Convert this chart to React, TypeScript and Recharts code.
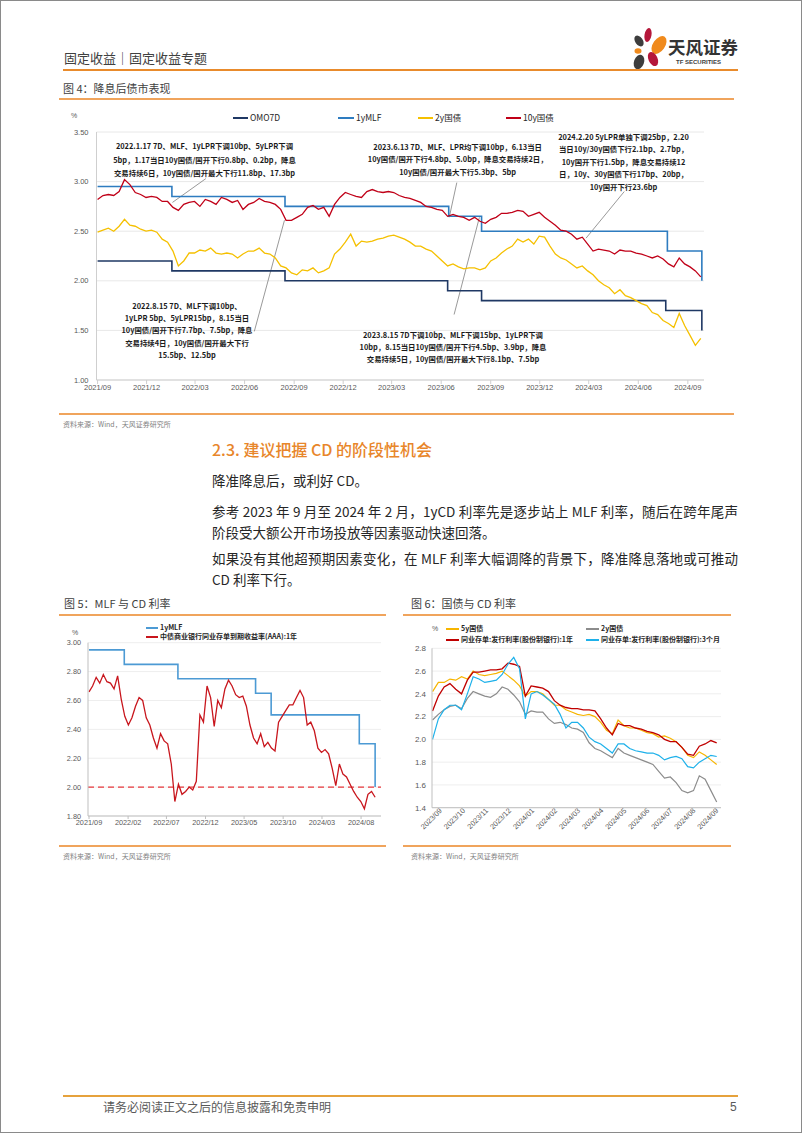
import React from 'react'
import { LineChart, Line, XAxis, YAxis, CartesianGrid, ReferenceLine } from 'recharts'

const CJK = '"Noto Sans CJK SC", "Noto Sans", sans-serif'
const NUM = '"Liberation Sans", "Noto Sans CJK SC", sans-serif'
const ORANGE = '#e98b2c'
const AXIS = '#cfcfcf'
const TICK = '#595959'

// ---------- 图4：降息后债市表现 ----------
const seriesStart = '2021-09-01'
const fig4StepDays = 10 // 2y / 10y samples every 10 days from seriesStart
const fig4Labels = ['2021/09', '2021/12', '2022/03', '2022/06', '2022/09', '2022/12', '2023/03', '2023/06', '2023/09', '2023/12', '2024/03', '2024/06', '2024/09']
const fig4YTicks = [1, 1.5, 2, 2.5, 3, 3.5]

const y10Values = [
  2.82, 2.86, 2.87, 2.86, 2.90, 3.02, 2.97, 2.89, 2.87, 2.84,
  2.85, 2.84, 2.80, 2.80, 2.74, 2.71, 2.77, 2.79, 2.80, 2.75,
  2.82, 2.80, 2.77, 2.84, 2.82, 2.79, 2.81, 2.72, 2.77, 2.79,
  2.83, 2.80, 2.79, 2.77, 2.72, 2.61, 2.61, 2.64, 2.67, 2.74,
  2.76, 2.72, 2.74, 2.65, 2.77, 2.84, 2.89, 2.87, 2.85, 2.84,
  2.90, 2.92, 2.90, 2.89, 2.90, 2.89, 2.86, 2.84, 2.83, 2.81,
  2.79, 2.75, 2.74, 2.72, 2.71, 2.65, 2.67, 2.65, 2.64, 2.61,
  2.64, 2.60, 2.58, 2.62, 2.64, 2.68, 2.68, 2.69, 2.71, 2.70,
  2.65, 2.67, 2.69, 2.64, 2.60, 2.56, 2.51, 2.50, 2.47, 2.42,
  2.44, 2.37, 2.30, 2.32, 2.31, 2.30, 2.27, 2.31, 2.30, 2.30,
  2.28, 2.27, 2.25, 2.23, 2.25, 2.22, 2.17, 2.14, 2.23, 2.17,
  2.14, 2.10, 2.04,
]
const y2Values = [
  2.49, 2.51, 2.53, 2.50, 2.55, 2.62, 2.56, 2.55, 2.52, 2.50,
  2.51, 2.49, 2.42, 2.39, 2.30, 2.15, 2.20, 2.28, 2.28, 2.31,
  2.30, 2.33, 2.28, 2.27, 2.28, 2.27, 2.23, 2.27, 2.30, 2.30,
  2.33, 2.28, 2.27, 2.23, 2.15, 2.13, 2.08, 2.06, 2.11, 2.10,
  2.13, 2.08, 2.10, 2.13, 2.27, 2.32, 2.39, 2.47, 2.35, 2.40,
  2.39, 2.40, 2.42, 2.43, 2.45, 2.46, 2.44, 2.42, 2.39, 2.35,
  2.35, 2.32, 2.30, 2.25, 2.20, 2.15, 2.17, 2.14, 2.12, 2.13,
  2.13, 2.11, 2.13, 2.20, 2.23, 2.28, 2.32, 2.35, 2.42, 2.39,
  2.42, 2.37, 2.45, 2.44, 2.35, 2.27, 2.23, 2.21, 2.17, 2.13,
  2.15, 2.10, 2.06, 2.00, 1.96, 1.93, 1.87, 1.91, 1.85, 1.83,
  1.80, 1.77, 1.75, 1.68, 1.66, 1.60, 1.57, 1.53, 1.67, 1.55,
  1.45, 1.35, 1.42,
]
const omoDates = ['2021-09-01', '2022-01-17', '2022-08-15', '2023-06-13', '2023-08-15', '2024-07-22', '2024-09-27']
const omoValues = [2.2, 2.1, 2.0, 1.9, 1.8, 1.7, 1.5]
const mlfDates = ['2021-09-01', '2022-01-17', '2022-08-15', '2023-06-15', '2023-08-15', '2024-07-25', '2024-09-27']
const mlfValues = [2.95, 2.85, 2.75, 2.65, 2.5, 2.3, 2.0]

// leader lines: [text end date, value, series date, value]
const fig4Leaders: [string, number, string, number][] = [
  ['2022-03-21', 3.03, '2022-01-18', 2.79],
  ['2023-06-30', 2.99, '2023-06-16', 2.64],
  ['2024-05-06', 2.9, '2024-02-25', 2.43],
  ['2022-06-19', 1.49, '2022-08-14', 2.61],
  ['2023-06-25', 1.66, '2023-08-11', 2.64],
]
const fig4Notes = [
  { cx: 203.5, cy: 145, lh: 13.5, lines: ['2022.1.17 7D、MLF、1yLPR下调10bp、5yLPR下调', '5bp，1.17当日10y国债/国开下行0.8bp、0.2bp，降息', '交易持续6日，10y国债/国开最大下行11.8bp、17.3bp'] },
  { cx: 456.7, cy: 146, lh: 12.9, lines: ['2023.6.13 7D、MLF、LPR均下调10bp，6.13当日', '10y国债/国开下行4.8bp、5.0bp，降息交易持续2日，', '10y国债/国开最大下行5.3bp、5bp'] },
  { cx: 622.5, cy: 136, lh: 12.5, lines: ['2024.2.20 5yLPR单独下调25bp，2.20', '当日10y/30y国债下行2.1bp、2.7bp，', '10y国开下行1.5bp，降息交易持续12', '日，10y、30y国债下行17bp、20bp，', '10y国开下行23.6bp'] },
  { cx: 186, cy: 305, lh: 12.3, lines: ['2022.8.15 7D、MLF下调10bp、', '1yLPR 5bp、5yLPR15bp，8.15当日', '10y国债/国开下行7.7bp、7.5bp，降息', '交易持续4日，10y国债/国开最大下行', '15.5bp、12.5bp'] },
  { cx: 452, cy: 334, lh: 12.2, lines: ['2023.8.15 7D下调10bp、MLF下调15bp、1yLPR下调', '10bp，8.15当日10y国债/国开下行4.5bp、3.9bp，降息', '交易持续5日，10y国债/国开最大下行8.1bp、7.5bp'] },
]

// ---------- 图5：MLF 与 CD 利率 ----------
const fig5StepDays = 14
const fig5Labels = ['2021/09', '2022/02', '2022/07', '2022/12', '2023/05', '2023/10', '2024/03', '2024/08']
const fig5YTicks = [1.8, 2.0, 2.2, 2.4, 2.6, 2.8, 3.0]
const cd1yAaaValues = [
  2.66, 2.70, 2.76, 2.72, 2.78, 2.73, 2.72, 2.68, 2.77, 2.61,
  2.49, 2.43, 2.48, 2.56, 2.62, 2.60, 2.48, 2.43, 2.34, 2.27,
  2.37, 2.32, 2.30, 2.16, 1.90, 2.02, 1.95, 1.97, 2.00, 1.98,
  2.04, 2.50, 2.45, 2.70, 2.62, 2.42, 2.60, 2.55, 2.68, 2.74,
  2.70, 2.64, 2.62, 2.63, 2.56, 2.43, 2.34, 2.30, 2.37, 2.28,
  2.31, 2.27, 2.25, 2.45, 2.49, 2.53, 2.57, 2.57, 2.62, 2.67,
  2.62, 2.43, 2.45, 2.39, 2.27, 2.24, 2.26, 2.23, 2.13, 2.01,
  2.16, 2.09, 2.07, 2.02, 1.97, 1.93, 1.90, 1.85, 1.95, 1.97,
  1.93,
]
const fig5MlfDates = ['2021-09-01', '2022-01-17', '2022-08-15', '2023-06-15', '2023-08-15', '2024-07-25', '2024-09-25']
const fig5MlfValues = [2.95, 2.85, 2.75, 2.65, 2.5, 2.3, 2.0]

// ---------- 图6：国债与 CD 利率 ----------
const fig6Labels = ['2023/09', '2023/10', '2023/11', '2023/12', '2024/01', '2024/02', '2024/03', '2024/04', '2024/05', '2024/06', '2024/07', '2024/08', '2024/09']
const fig6Start = -0.28 // in label units (0 = 2023/09)
const fig6Step = 0.2517
const fig6YTicks = [1.4, 1.6, 1.8, 2.0, 2.2, 2.4, 2.6, 2.8]
const gov5yValues = [
  2.42, 2.50, 2.50, 2.53, 2.52, 2.55, 2.53, 2.60, 2.57, 2.56,
  2.57, 2.58, 2.60, 2.56, 2.52, 2.47, 2.38, 2.42, 2.42, 2.40,
  2.35, 2.30, 2.30, 2.26, 2.24, 2.22, 2.21, 2.22, 2.20, 2.15,
  2.08, 2.05, 2.17, 2.12, 2.10, 2.10, 2.08, 2.06, 2.05, 2.02,
  2.03, 2.01, 1.98, 1.93, 1.86, 1.84, 1.89, 1.86, 1.82, 1.78,
]
const gov2yValues = [
  2.17, 2.22, 2.26, 2.29, 2.30, 2.27, 2.36, 2.42, 2.40, 2.38,
  2.37, 2.40, 2.46, 2.44, 2.39, 2.33, 2.22, 2.25, 2.24, 2.24,
  2.18, 2.14, 2.15, 2.13, 2.10, 2.09, 2.06, 1.97, 1.92, 1.90,
  1.87, 1.84, 1.92, 1.88, 1.86, 1.84, 1.82, 1.80, 1.78, 1.72,
  1.66, 1.67, 1.62, 1.55, 1.53, 1.55, 1.68, 1.65, 1.55, 1.45,
]
const cd1yValues = [
  2.25, 2.38, 2.46, 2.49, 2.44, 2.40, 2.52, 2.59, 2.59, 2.60,
  2.61, 2.61, 2.62, 2.67, 2.66, 2.64, 2.38, 2.47, 2.46, 2.45,
  2.42, 2.34, 2.30, 2.28, 2.27, 2.27, 2.26, 2.26, 2.25, 2.18,
  2.10, 2.04, 2.14, 2.12, 2.12, 2.10, 2.09, 2.07, 2.06, 2.04,
  2.00, 1.98, 1.98, 1.93, 1.87, 1.86, 1.94, 1.96, 1.99, 1.97,
]
const cd3mValues = [
  2.00, 2.18, 2.26, 2.30, 2.30, 2.26, 2.40, 2.55, 2.53, 2.50,
  2.51, 2.52, 2.57, 2.66, 2.72, 2.62, 2.18, 2.40, 2.42, 2.39,
  2.35, 2.31, 2.22, 2.10, 2.15, 2.15, 2.10, 2.02, 1.98, 1.96,
  1.92, 1.88, 1.96, 1.96, 1.92, 1.90, 1.89, 1.88, 1.88, 1.86,
  1.82, 1.84, 1.85, 1.83, 1.76, 1.75, 1.80, 1.83, 1.86, 1.85,
]

// ---------- text ----------
const sourceText = '资料来源：Wind，天风证券研究所'
const para2 = ['参考 2023 年 9 月至 2024 年 2 月，1yCD 利率先是逐步站上 MLF 利率，随后在跨年尾声', '阶段受大额公开市场投放等因素驱动快速回落。']
const para3 = ['如果没有其他超预期因素变化，在 MLF 利率大幅调降的背景下，降准降息落地或可推动', 'CD 利率下行。']

function dayOf(date: string): number {
  return Math.round((Date.parse(date) - Date.parse(seriesStart)) / 86400000)
}
const labelDay = (label: string) => dayOf(label.replace('/', '-') + '-01')

function Label({ x, cy, size, color = '#333', weight = 400, font = CJK, children }: any) {
  return (
    <div style={{ position: 'absolute', left: x, top: cy - size * 0.7, fontSize: size, lineHeight: `${size * 1.4}px`, color, fontWeight: weight, fontFamily: font, whiteSpace: 'nowrap' }}>
      {children}
    </div>
  )
}

function Rule({ x1, x2, y, h = 1, color = ORANGE }: any) {
  return <div style={{ position: 'absolute', left: x1, top: y - h / 2, width: x2 - x1, height: h, background: color }} />
}

function Key({ x, cy, w, color, label, size, bold = false, gap = 2, thick = 2 }: any) {
  return (
    <>
      <div style={{ position: 'absolute', left: x, top: cy - thick / 2, width: w, height: thick, background: color }} />
      <Label x={x + w + gap} cy={cy} size={size} color="#262626" weight={bold ? 700 : 400}>{label}</Label>
    </>
  )
}

function Logo() {
  return (
    <>
      <svg style={{ position: 'absolute', left: 626, top: 24 }} width={46} height={48}>
        <ellipse cx={21} cy={10} rx={3.5} ry={7} fill="#b5173a" transform="rotate(10 21 10)" />
        <ellipse cx={12} cy={16} rx={3.8} ry={6} fill="#3d3d3d" transform="rotate(-35 12 16)" />
        <ellipse cx={32} cy={20} rx={6} ry={10} fill="#f08a1c" transform="rotate(35 32 20)" />
        <ellipse cx={11} cy={26} rx={3.5} ry={2.8} fill="#f08a1c" />
        <ellipse cx={12} cy={37} rx={5} ry={7.5} fill="#3d3d3d" transform="rotate(20 12 37)" />
        <ellipse cx={26} cy={34} rx={4.5} ry={7.5} fill="#b5173a" transform="rotate(-25 26 34)" />
      </svg>
      <Label x={667} cy={46} size={17.5} color="#333" weight={700}>天风证券</Label>
      <Label x={675} cy={61.5} size={6} color="#404040" weight={700} font={NUM}>TF SECURITIES</Label>
    </>
  )
}

function Fig4() {
  const yields = y10Values.map((v, i) => ({ d: i * fig4StepDays, y10: v, y2: y2Values[i] }))
  const omo = omoDates.map((t, i) => ({ d: dayOf(t), v: omoValues[i] }))
  const mlf = mlfDates.map((t, i) => ({ d: dayOf(t), v: mlfValues[i] }))
  const tickStyle = { fontSize: 7.5, fill: TICK, fontFamily: NUM }
  return (
    <div style={{ position: 'absolute', left: 60, top: 105 }}>
      <LineChart width={660} height={300} margin={{ top: 26, right: 17, bottom: 6, left: 5.5 }}>
        <CartesianGrid vertical={false} stroke="#e8e8e8" />
        <XAxis type="number" dataKey="d" domain={[-2, 1126]} ticks={fig4Labels.map(labelDay)} interval={0}
          tickFormatter={(v: number) => fig4Labels[fig4Labels.map(labelDay).indexOf(v)]}
          height={20} stroke={AXIS} tickSize={4} tickMargin={1} tick={tickStyle} />
        <YAxis type="number" domain={[1, 3.5]} ticks={fig4YTicks} interval={0} width={30}
          tickFormatter={(v: number) => v.toFixed(2)} axisLine={{ stroke: AXIS }} tickLine={false} tick={tickStyle} />
        {fig4Leaders.map(([d1, v1, d2, v2], i) => (
          <ReferenceLine key={i} segment={[{ x: dayOf(d1), y: v1 }, { x: dayOf(d2), y: v2 }]} stroke="#7f7f7f" strokeWidth={0.8} />
        ))}
        <Line data={omo} dataKey="v" type="stepAfter" stroke="#1f3864" strokeWidth={1.6} dot={false} isAnimationActive={false} />
        <Line data={mlf} dataKey="v" type="stepAfter" stroke="#2e7cc0" strokeWidth={1.6} dot={false} isAnimationActive={false} />
        <Line data={yields} dataKey="y2" stroke="#f5c000" strokeWidth={1.3} dot={false} isAnimationActive={false} />
        <Line data={yields} dataKey="y10" stroke="#c00018" strokeWidth={1.3} dot={false} isAnimationActive={false} />
      </LineChart>
    </div>
  )
}

function Fig5() {
  const cd = cd1yAaaValues.map((v, i) => ({ d: i * fig5StepDays, v }))
  const mlf = fig5MlfDates.map((t, i) => ({ d: dayOf(t), v: fig5MlfValues[i] }))
  const tickStyle = { fontSize: 7.3, fill: TICK, fontFamily: NUM }
  return (
    <div style={{ position: 'absolute', left: 40, top: 620 }}>
      <LineChart width={350} height={215} margin={{ top: 21.7, right: 10, bottom: 5, left: 17 }}>
        <CartesianGrid vertical={false} stroke="#eeeeee" />
        <XAxis type="number" dataKey="d" domain={[-4, 1143]} ticks={fig5Labels.map(labelDay)} interval={0}
          tickFormatter={(v: number) => fig5Labels[fig5Labels.map(labelDay).indexOf(v)]}
          height={15} stroke="#bfbfbf" tickSize={3} tickMargin={1} tick={tickStyle} />
        <YAxis type="number" domain={[1.8, 3.0]} ticks={fig5YTicks} interval={0} width={30} tickSize={5} tickMargin={2}
          tickFormatter={(v: number) => v.toFixed(2)} axisLine={{ stroke: '#bfbfbf' }} tickLine={false} tick={tickStyle} />
        <ReferenceLine y={2} stroke="#e8383d" strokeDasharray="6 4" strokeWidth={1.1} />
        <Line data={mlf} dataKey="v" type="stepAfter" stroke="#4c9ad4" strokeWidth={1.6} dot={false} isAnimationActive={false} />
        <Line data={cd} dataKey="v" stroke="#c8161d" strokeWidth={1.3} dot={false} isAnimationActive={false} />
      </LineChart>
    </div>
  )
}

function SlantTick({ x, y, payload }: any) {
  const ax = x + 3.5
  const ay = y + 3.5
  return (
    <text x={ax} y={ay} transform={`rotate(-45 ${ax} ${ay})`} textAnchor="end" fontSize={7.3} fill={TICK} fontFamily={NUM}>
      {fig6Labels[Math.round(payload.value)]}
    </text>
  )
}

function Fig6() {
  const rows = gov5yValues.map((v, i) => ({
    m: fig6Start + i * fig6Step, g5: v, g2: gov2yValues[i], c1: cd1yValues[i], c3: cd3mValues[i],
  }))
  const tickStyle = { fontSize: 8, fill: TICK, fontFamily: NUM }
  return (
    <div style={{ position: 'absolute', left: 395, top: 620 }}>
      <LineChart width={335} height={220} data={rows} margin={{ top: 27.3, right: 10, bottom: 3.3, left: 10 }}>
        <CartesianGrid vertical={false} stroke="#eeeeee" />
        <XAxis type="number" dataKey="m" domain={[-0.304, 12.24]} ticks={fig6Labels.map((_, i) => i)} interval={0}
          height={30} stroke="#bfbfbf" tickLine={false} tickSize={0} tickMargin={0} tick={<SlantTick />} />
        <YAxis type="number" domain={[1.4, 2.8]} ticks={fig6YTicks} interval={0} width={26} tickSize={4} tickMargin={2}
          tickFormatter={(v: number) => v.toFixed(1)} axisLine={{ stroke: '#bfbfbf' }} tickLine={false} tick={tickStyle} />
        <Line dataKey="g5" stroke="#f7b500" strokeWidth={1.2} dot={false} isAnimationActive={false} />
        <Line dataKey="g2" stroke="#8c8c8c" strokeWidth={1.2} dot={false} isAnimationActive={false} />
        <Line dataKey="c1" stroke="#c00000" strokeWidth={1.3} dot={false} isAnimationActive={false} />
        <Line dataKey="c3" stroke="#1eb1ea" strokeWidth={1.2} dot={false} isAnimationActive={false} />
      </LineChart>
    </div>
  )
}

export default function App() {
  const body = { fontSize: 13.5, color: '#262626' }
  return (
    <div style={{ position: 'absolute', left: 0, top: 0, width: 802, height: 1133, background: '#fff', border: '1px solid #8a8a8a', boxSizing: 'border-box', overflow: 'hidden', fontFamily: CJK }}>
      {/* header */}
      <Label x={63} cy={57} size={13} color="#404040">固定收益｜固定收益专题</Label>
      <Logo />
      <Rule x1={62} x2={737} y={68.5} h={2} />

      {/* figure 4 */}
      <Label x={62} cy={88} size={11} color="#404040">图 4：降息后债市表现</Label>
      <Rule x1={58} x2={733} y={98} h={1.5} color="#f0a45c" />
      <Fig4 />
      <Label x={70} cy={115} size={7} color={TICK} font={NUM}>%</Label>
      <Key x={232} cy={117} w={15} color="#1f3864" label="OMO7D" size={8.5} />
      <Key x={337} cy={117} w={16} color="#2e7cc0" label="1yMLF" size={8.5} />
      <Key x={417} cy={117} w={15} color="#f5c000" label="2y国债" size={8.5} />
      <Key x={505} cy={117} w={15} color="#c00018" label="10y国债" size={8.5} />
      {fig4Notes.map((n, i) => (
        <div key={i} style={{ position: 'absolute', left: n.cx - 150, top: n.cy - n.lh / 2, width: 300, textAlign: 'center', fontSize: 7.4, lineHeight: `${n.lh}px`, fontWeight: 700, color: '#1a1a1a', fontFamily: CJK }}>
          {n.lines.map((l, j) => <div key={j} style={{ whiteSpace: 'nowrap' }}>{l}</div>)}
        </div>
      ))}
      <Rule x1={58} x2={733} y={413} h={1.5} color="#f0a45c" />
      <Label x={62} cy={424} size={7} color="#7f7f7f">{sourceText}</Label>

      {/* text section */}
      <Label x={211} cy={448} size={16} color="#e8862a" weight={500}>2.3. 建议把握 CD 的阶段性机会</Label>
      <Label x={211} cy={479} size={body.fontSize} color={body.color}>降准降息后，或利好 CD。</Label>
      {[...para2.map((l, i) => ({ l, y: 510 + i * 21, last: i === para2.length - 1 })), ...para3.map((l, i) => ({ l, y: 557 + i * 21, last: i === para3.length - 1 }))].map((r, i) => (
        <div key={i} style={{ position: 'absolute', left: 211, top: r.y - 10.5, width: 526, fontSize: body.fontSize, lineHeight: '21px', color: body.color, textAlign: r.last ? 'left' : 'justify', textAlignLast: r.last ? 'left' : 'justify', whiteSpace: r.last ? 'nowrap' : 'normal' } as React.CSSProperties}>
          {r.l}
        </div>
      ))}

      {/* figure 5 */}
      <Label x={63} cy={603} size={11} color="#404040">图 5：MLF 与 CD 利率</Label>
      <Rule x1={58} x2={385} y={614} h={1.5} color="#f0a45c" />
      <Fig5 />
      <Label x={71} cy={632} size={7} color={TICK} font={NUM}>%</Label>
      <Key x={145} cy={627} w={12} color="#4c9ad4" label="1yMLF" size={7} bold />
      <Key x={145} cy={636} w={12} color="#c8161d" label="中债商业银行同业存单到期收益率(AAA):1年" size={7} bold />
      <Rule x1={58} x2={385} y={845} h={1.5} color="#f0a45c" />
      <Label x={62} cy={856} size={7} color="#7f7f7f">{sourceText}</Label>

      {/* figure 6 */}
      <Label x={410} cy={603} size={11} color="#404040">图 6：国债与 CD 利率</Label>
      <Rule x1={402} x2={730} y={614} h={1.5} color="#f0a45c" />
      <Fig6 />
      <Label x={431} cy={628} size={7} color={TICK} font={NUM}>%</Label>
      <Key x={445} cy={628} w={13} color="#f7b500" label="5y国债" size={7} bold />
      <Key x={585} cy={628} w={13} color="#8c8c8c" label="2y国债" size={7} bold />
      <Key x={445} cy={639} w={13} color="#c00000" label="同业存单:发行利率(股份制银行):1年" size={7} bold />
      <Key x={585} cy={639} w={13} color="#1eb1ea" label="同业存单:发行利率(股份制银行):3个月" size={7} bold />
      <Rule x1={402} x2={730} y={845} h={1.5} color="#f0a45c" />
      <Label x={410} cy={856} size={7} color="#7f7f7f">{sourceText}</Label>

      {/* footer */}
      <Rule x1={62} x2={737} y={1094.5} h={2} color="#e6a23c" />
      <Label x={102} cy={1106} size={12} color="#595959">请务必阅读正文之后的信息披露和免责申明</Label>
      <Label x={729} cy={1106} size={12} color="#595959" font={NUM}>5</Label>
    </div>
  )
}
